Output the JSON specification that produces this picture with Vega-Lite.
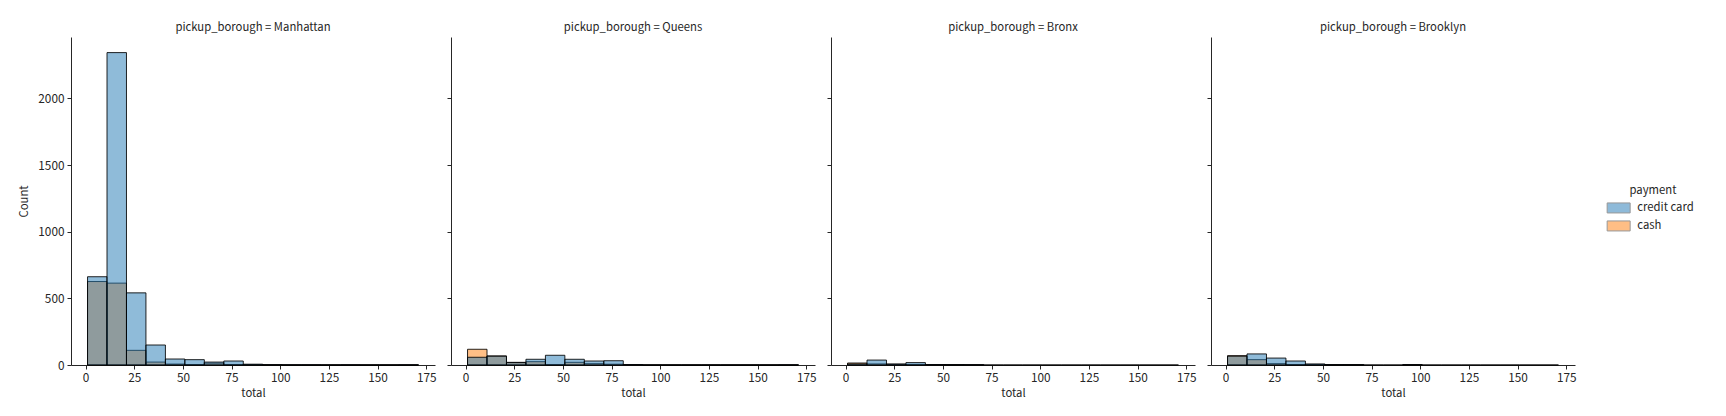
{
  "$schema": "https://vega.github.io/schema/vega-lite/v6.json",
  "padding": {"left": 18, "top": 21, "right": 0, "bottom": 0},
  "bounds": "flush",
  "config": {
    "font": "Noto Sans CJK JP",
    "view": {"stroke": null},
    "axis": {"grid": false, "domainColor": "#262626", "tickColor": "#262626", "labelColor": "#262626", "titleColor": "#262626", "labelFontSize": 11.8, "titleFontSize": 11.3, "titleFontWeight": "normal", "tickSize": 4, "labelPadding": 3, "domainWidth": 1},
    "title": {"fontSize": 11.3, "fontWeight": "normal", "color": "#262626", "offset": 4},
    "legend": {"labelFontSize": 11.3, "titleFontSize": 11.3, "titleFontWeight": "normal", "labelColor": "#262626", "titleColor": "#262626"}
  },
  "datasets": {
    "hist": [
      {"borough": "Manhattan", "payment": "cash", "b0": 1, "b1": 11, "count": 626},
      {"borough": "Manhattan", "payment": "cash", "b0": 11, "b1": 21, "count": 614},
      {"borough": "Manhattan", "payment": "cash", "b0": 21, "b1": 31, "count": 110},
      {"borough": "Manhattan", "payment": "cash", "b0": 31, "b1": 41, "count": 22},
      {"borough": "Manhattan", "payment": "cash", "b0": 41, "b1": 51, "count": 7},
      {"borough": "Manhattan", "payment": "cash", "b0": 51, "b1": 61, "count": 3},
      {"borough": "Manhattan", "payment": "cash", "b0": 61, "b1": 71, "count": 14},
      {"borough": "Manhattan", "payment": "cash", "b0": 71, "b1": 81, "count": 3},
      {"borough": "Manhattan", "payment": "cash", "b0": 81, "b1": 91, "count": 2},
      {"borough": "Manhattan", "payment": "cash", "b0": 91, "b1": 101, "count": 1},
      {"borough": "Manhattan", "payment": "cash", "b0": 101, "b1": 111, "count": 0},
      {"borough": "Manhattan", "payment": "cash", "b0": 111, "b1": 121, "count": 0},
      {"borough": "Manhattan", "payment": "cash", "b0": 121, "b1": 131, "count": 0},
      {"borough": "Manhattan", "payment": "cash", "b0": 131, "b1": 141, "count": 0},
      {"borough": "Manhattan", "payment": "cash", "b0": 141, "b1": 151, "count": 0},
      {"borough": "Manhattan", "payment": "cash", "b0": 151, "b1": 161, "count": 0},
      {"borough": "Manhattan", "payment": "cash", "b0": 161, "b1": 171, "count": 0},
      {"borough": "Manhattan", "payment": "credit card", "b0": 1, "b1": 11, "count": 662},
      {"borough": "Manhattan", "payment": "credit card", "b0": 11, "b1": 21, "count": 2343},
      {"borough": "Manhattan", "payment": "credit card", "b0": 21, "b1": 31, "count": 541},
      {"borough": "Manhattan", "payment": "credit card", "b0": 31, "b1": 41, "count": 150},
      {"borough": "Manhattan", "payment": "credit card", "b0": 41, "b1": 51, "count": 45},
      {"borough": "Manhattan", "payment": "credit card", "b0": 51, "b1": 61, "count": 40},
      {"borough": "Manhattan", "payment": "credit card", "b0": 61, "b1": 71, "count": 22},
      {"borough": "Manhattan", "payment": "credit card", "b0": 71, "b1": 81, "count": 30},
      {"borough": "Manhattan", "payment": "credit card", "b0": 81, "b1": 91, "count": 6},
      {"borough": "Manhattan", "payment": "credit card", "b0": 91, "b1": 101, "count": 2},
      {"borough": "Manhattan", "payment": "credit card", "b0": 101, "b1": 111, "count": 1},
      {"borough": "Manhattan", "payment": "credit card", "b0": 111, "b1": 121, "count": 1},
      {"borough": "Manhattan", "payment": "credit card", "b0": 121, "b1": 131, "count": 0},
      {"borough": "Manhattan", "payment": "credit card", "b0": 131, "b1": 141, "count": 1},
      {"borough": "Manhattan", "payment": "credit card", "b0": 141, "b1": 151, "count": 0},
      {"borough": "Manhattan", "payment": "credit card", "b0": 151, "b1": 161, "count": 0},
      {"borough": "Manhattan", "payment": "credit card", "b0": 161, "b1": 171, "count": 1},

      {"borough": "Queens", "payment": "cash", "b0": 1, "b1": 11, "count": 118},
      {"borough": "Queens", "payment": "cash", "b0": 11, "b1": 21, "count": 68},
      {"borough": "Queens", "payment": "cash", "b0": 21, "b1": 31, "count": 20},
      {"borough": "Queens", "payment": "cash", "b0": 31, "b1": 41, "count": 25},
      {"borough": "Queens", "payment": "cash", "b0": 41, "b1": 51, "count": 2},
      {"borough": "Queens", "payment": "cash", "b0": 51, "b1": 61, "count": 20},
      {"borough": "Queens", "payment": "cash", "b0": 61, "b1": 71, "count": 10},
      {"borough": "Queens", "payment": "cash", "b0": 71, "b1": 81, "count": 6},
      {"borough": "Queens", "payment": "cash", "b0": 81, "b1": 91, "count": 2},
      {"borough": "Queens", "payment": "cash", "b0": 91, "b1": 101, "count": 0},
      {"borough": "Queens", "payment": "cash", "b0": 101, "b1": 111, "count": 0},
      {"borough": "Queens", "payment": "cash", "b0": 111, "b1": 121, "count": 0},
      {"borough": "Queens", "payment": "cash", "b0": 121, "b1": 131, "count": 0},
      {"borough": "Queens", "payment": "cash", "b0": 131, "b1": 141, "count": 0},
      {"borough": "Queens", "payment": "cash", "b0": 141, "b1": 151, "count": 0},
      {"borough": "Queens", "payment": "cash", "b0": 151, "b1": 161, "count": 0},
      {"borough": "Queens", "payment": "cash", "b0": 161, "b1": 171, "count": 0},
      {"borough": "Queens", "payment": "credit card", "b0": 1, "b1": 11, "count": 58},
      {"borough": "Queens", "payment": "credit card", "b0": 11, "b1": 21, "count": 66},
      {"borough": "Queens", "payment": "credit card", "b0": 21, "b1": 31, "count": 18},
      {"borough": "Queens", "payment": "credit card", "b0": 31, "b1": 41, "count": 43},
      {"borough": "Queens", "payment": "credit card", "b0": 41, "b1": 51, "count": 73},
      {"borough": "Queens", "payment": "credit card", "b0": 51, "b1": 61, "count": 43},
      {"borough": "Queens", "payment": "credit card", "b0": 61, "b1": 71, "count": 30},
      {"borough": "Queens", "payment": "credit card", "b0": 71, "b1": 81, "count": 32},
      {"borough": "Queens", "payment": "credit card", "b0": 81, "b1": 91, "count": 3},
      {"borough": "Queens", "payment": "credit card", "b0": 91, "b1": 101, "count": 0},
      {"borough": "Queens", "payment": "credit card", "b0": 101, "b1": 111, "count": 0},
      {"borough": "Queens", "payment": "credit card", "b0": 111, "b1": 121, "count": 0},
      {"borough": "Queens", "payment": "credit card", "b0": 121, "b1": 131, "count": 0},
      {"borough": "Queens", "payment": "credit card", "b0": 131, "b1": 141, "count": 0},
      {"borough": "Queens", "payment": "credit card", "b0": 141, "b1": 151, "count": 0},
      {"borough": "Queens", "payment": "credit card", "b0": 151, "b1": 161, "count": 0},
      {"borough": "Queens", "payment": "credit card", "b0": 161, "b1": 171, "count": 1},

      {"borough": "Bronx", "payment": "cash", "b0": 1, "b1": 11, "count": 15},
      {"borough": "Bronx", "payment": "cash", "b0": 11, "b1": 21, "count": 8},
      {"borough": "Bronx", "payment": "cash", "b0": 21, "b1": 31, "count": 6},
      {"borough": "Bronx", "payment": "cash", "b0": 31, "b1": 41, "count": 3},
      {"borough": "Bronx", "payment": "cash", "b0": 41, "b1": 51, "count": 2},
      {"borough": "Bronx", "payment": "cash", "b0": 51, "b1": 61, "count": 1},
      {"borough": "Bronx", "payment": "cash", "b0": 61, "b1": 71, "count": 1},
      {"borough": "Bronx", "payment": "credit card", "b0": 1, "b1": 11, "count": 8},
      {"borough": "Bronx", "payment": "credit card", "b0": 11, "b1": 21, "count": 37},
      {"borough": "Bronx", "payment": "credit card", "b0": 21, "b1": 31, "count": 7},
      {"borough": "Bronx", "payment": "credit card", "b0": 31, "b1": 41, "count": 18},
      {"borough": "Bronx", "payment": "credit card", "b0": 41, "b1": 51, "count": 3},
      {"borough": "Bronx", "payment": "credit card", "b0": 51, "b1": 61, "count": 3},
      {"borough": "Bronx", "payment": "credit card", "b0": 61, "b1": 71, "count": 2},
      {"borough": "Bronx", "payment": "credit card", "b0": 71, "b1": 81, "count": 0},
      {"borough": "Bronx", "payment": "credit card", "b0": 81, "b1": 91, "count": 0},
      {"borough": "Bronx", "payment": "credit card", "b0": 91, "b1": 101, "count": 0},
      {"borough": "Bronx", "payment": "credit card", "b0": 101, "b1": 111, "count": 0},
      {"borough": "Bronx", "payment": "credit card", "b0": 111, "b1": 121, "count": 0},
      {"borough": "Bronx", "payment": "credit card", "b0": 121, "b1": 131, "count": 0},
      {"borough": "Bronx", "payment": "credit card", "b0": 131, "b1": 141, "count": 0},
      {"borough": "Bronx", "payment": "credit card", "b0": 141, "b1": 151, "count": 0},
      {"borough": "Bronx", "payment": "credit card", "b0": 151, "b1": 161, "count": 0},
      {"borough": "Bronx", "payment": "credit card", "b0": 161, "b1": 171, "count": 0},

      {"borough": "Brooklyn", "payment": "cash", "b0": 1, "b1": 11, "count": 70},
      {"borough": "Brooklyn", "payment": "cash", "b0": 11, "b1": 21, "count": 40},
      {"borough": "Brooklyn", "payment": "cash", "b0": 21, "b1": 31, "count": 10},
      {"borough": "Brooklyn", "payment": "cash", "b0": 31, "b1": 41, "count": 3},
      {"borough": "Brooklyn", "payment": "cash", "b0": 41, "b1": 51, "count": 2},
      {"borough": "Brooklyn", "payment": "cash", "b0": 51, "b1": 61, "count": 1},
      {"borough": "Brooklyn", "payment": "cash", "b0": 61, "b1": 71, "count": 1},
      {"borough": "Brooklyn", "payment": "cash", "b0": 91, "b1": 101, "count": 1},
      {"borough": "Brooklyn", "payment": "credit card", "b0": 1, "b1": 11, "count": 66},
      {"borough": "Brooklyn", "payment": "credit card", "b0": 11, "b1": 21, "count": 83},
      {"borough": "Brooklyn", "payment": "credit card", "b0": 21, "b1": 31, "count": 52},
      {"borough": "Brooklyn", "payment": "credit card", "b0": 31, "b1": 41, "count": 30},
      {"borough": "Brooklyn", "payment": "credit card", "b0": 41, "b1": 51, "count": 8},
      {"borough": "Brooklyn", "payment": "credit card", "b0": 51, "b1": 61, "count": 3},
      {"borough": "Brooklyn", "payment": "credit card", "b0": 61, "b1": 71, "count": 3},
      {"borough": "Brooklyn", "payment": "credit card", "b0": 71, "b1": 81, "count": 0},
      {"borough": "Brooklyn", "payment": "credit card", "b0": 81, "b1": 91, "count": 0},
      {"borough": "Brooklyn", "payment": "credit card", "b0": 91, "b1": 101, "count": 3},
      {"borough": "Brooklyn", "payment": "credit card", "b0": 101, "b1": 111, "count": 0},
      {"borough": "Brooklyn", "payment": "credit card", "b0": 111, "b1": 121, "count": 0},
      {"borough": "Brooklyn", "payment": "credit card", "b0": 121, "b1": 131, "count": 0},
      {"borough": "Brooklyn", "payment": "credit card", "b0": 131, "b1": 141, "count": 0},
      {"borough": "Brooklyn", "payment": "credit card", "b0": 141, "b1": 151, "count": 0},
      {"borough": "Brooklyn", "payment": "credit card", "b0": 151, "b1": 161, "count": 0},
      {"borough": "Brooklyn", "payment": "credit card", "b0": 161, "b1": 171, "count": 0}
    ]
  },
  "data": {"name": "hist"},
  "spacing": 16,
  "hconcat": [
    {
      "title": "pickup_borough = Manhattan",
      "width": 364, "height": 328,
      "transform": [{"filter": "datum.borough === 'Manhattan'"}],
      "mark": {"type": "bar", "fillOpacity": 0.5, "stroke": "#000", "strokeOpacity": 0.85, "strokeWidth": 1},
      "encoding": {
        "x": {"field": "b0", "type": "quantitative", "scale": {"domain": [-7.5, 179.5], "nice": false, "zero": false}, "axis": {"values": [0, 25, 50, 75, 100, 125, 150, 175], "title": "total"}},
        "x2": {"field": "b1"},
        "y": {"field": "count", "type": "quantitative", "stack": null, "scale": {"domain": [0, 2460], "nice": false}, "axis": {"values": [0, 500, 1000, 1500, 2000], "format": "d", "title": "Count", "titlePadding": 8}},
        "y2": {"datum": 0},
        "color": {"field": "payment", "type": "nominal", "scale": {"domain": ["credit card", "cash"], "range": ["#1f77b4", "#ff7f0e"]},
          "legend": {"title": "payment", "orient": "none", "legendX": 1542, "legendY": 148, "titleAnchor": "middle", "symbolType": "M-2.3,-1H2.3V1H-2.3Z", "symbolSize": 100, "symbolStrokeColor": "#333", "symbolStrokeWidth": 1, "symbolOpacity": 0.5, "rowPadding": 3, "labelOffset": 13, "titlePadding": 6}}
      }
    },
    {
      "title": "pickup_borough = Queens",
      "width": 364, "height": 328,
      "transform": [{"filter": "datum.borough === 'Queens'"}],
      "mark": {"type": "bar", "fillOpacity": 0.5, "stroke": "#000", "strokeOpacity": 0.85, "strokeWidth": 1},
      "encoding": {
        "x": {"field": "b0", "type": "quantitative", "scale": {"domain": [-7.5, 179.5], "nice": false, "zero": false}, "axis": {"values": [0, 25, 50, 75, 100, 125, 150, 175], "title": "total"}},
        "x2": {"field": "b1"},
        "y": {"field": "count", "type": "quantitative", "stack": null, "scale": {"domain": [0, 2460], "nice": false}, "axis": {"values": [0, 500, 1000, 1500, 2000], "title": null, "labels": false}},
        "y2": {"datum": 0},
        "color": {"field": "payment", "type": "nominal", "scale": {"domain": ["credit card", "cash"], "range": ["#1f77b4", "#ff7f0e"]}, "legend": null}
      }
    },
    {
      "title": "pickup_borough = Bronx",
      "width": 364, "height": 328,
      "transform": [{"filter": "datum.borough === 'Bronx'"}],
      "mark": {"type": "bar", "fillOpacity": 0.5, "stroke": "#000", "strokeOpacity": 0.85, "strokeWidth": 1},
      "encoding": {
        "x": {"field": "b0", "type": "quantitative", "scale": {"domain": [-7.5, 179.5], "nice": false, "zero": false}, "axis": {"values": [0, 25, 50, 75, 100, 125, 150, 175], "title": "total"}},
        "x2": {"field": "b1"},
        "y": {"field": "count", "type": "quantitative", "stack": null, "scale": {"domain": [0, 2460], "nice": false}, "axis": {"values": [0, 500, 1000, 1500, 2000], "title": null, "labels": false}},
        "y2": {"datum": 0},
        "color": {"field": "payment", "type": "nominal", "scale": {"domain": ["credit card", "cash"], "range": ["#1f77b4", "#ff7f0e"]}, "legend": null}
      }
    },
    {
      "title": "pickup_borough = Brooklyn",
      "width": 364, "height": 328,
      "transform": [{"filter": "datum.borough === 'Brooklyn'"}],
      "mark": {"type": "bar", "fillOpacity": 0.5, "stroke": "#000", "strokeOpacity": 0.85, "strokeWidth": 1},
      "encoding": {
        "x": {"field": "b0", "type": "quantitative", "scale": {"domain": [-7.5, 179.5], "nice": false, "zero": false}, "axis": {"values": [0, 25, 50, 75, 100, 125, 150, 175], "title": "total"}},
        "x2": {"field": "b1"},
        "y": {"field": "count", "type": "quantitative", "stack": null, "scale": {"domain": [0, 2460], "nice": false}, "axis": {"values": [0, 500, 1000, 1500, 2000], "title": null, "labels": false}},
        "y2": {"datum": 0},
        "color": {"field": "payment", "type": "nominal", "scale": {"domain": ["credit card", "cash"], "range": ["#1f77b4", "#ff7f0e"]}, "legend": null}
      }
    }
  ]
}
